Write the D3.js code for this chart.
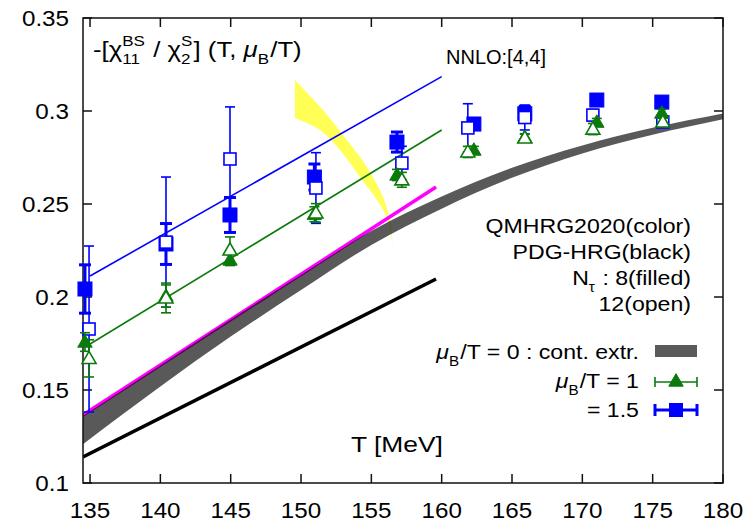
<!DOCTYPE html>
<html>
<head>
<meta charset="utf-8">
<script src="https://cdn.jsdelivr.net/npm/d3@7"></script>
<style>
  body { margin: 0; background: #fff; }
  svg text { font-family: "Liberation Sans", Arial, Helvetica, sans-serif; fill: #000; white-space: pre; }
</style>
</head>
<body>
<svg id="chart" width="756" height="523"></svg>
<script>
// ---- data ----
var xTicks = [135, 140, 145, 150, 155, 160, 165, 170, 175, 180];
var yTicks = [0.1, 0.15, 0.2, 0.25, 0.3, 0.35];

// mu_B/T = 0 continuum extrapolation band
var bandT     = [134.5, 140, 145, 150, 155, 160, 165, 170, 175, 180];
var bandUpper = [0.1360, 0.1632, 0.1878, 0.2118, 0.2355, 0.2540, 0.2695, 0.2815, 0.2910, 0.2987];
var bandLower = [0.1209, 0.1519, 0.1787, 0.2037, 0.2280, 0.2475, 0.2641, 0.2772, 0.2872, 0.2955];

// NNLO [4,4] lines
var nnloT   = [135, 160];
var nnlo15  = [0.2113, 0.3185];
var nnlo1   = [0.1747, 0.2898];

// HRG lines
var hrgT   = [134.5, 159.6];
var qmhrg  = [0.1366, 0.2591];   // magenta
var pdghrg = [0.1140, 0.2097];   // black

// yellow band (upper edge then lower edge)
var yelUpT = [149.57, 151.56, 153.26, 154.68, 155.82, 156.32, 156.53];
var yelUpV = [0.3167, 0.3005, 0.2844, 0.2699, 0.2538, 0.2414, 0.2269];
var yelLoT = [149.57, 151.34, 152.77, 154.19, 155.40, 156.18, 156.46];
var yelLoV = [0.2962, 0.2898, 0.2790, 0.2645, 0.2522, 0.2414, 0.2306];

// lattice points
var T8  = [134.64, 140.4, 144.95, 150.95, 156.82, 162.29, 165.91, 171.03, 175.65];
var T12 = [134.93, 140.4, 144.95, 151.06, 157.17, 161.86, 165.91, 170.75, 175.72];

var blue8     = [0.2043, 0.2285, 0.2441, 0.2645, 0.2833, 0.2930, 0.2985, 0.3059, 0.3048];
var blue8err  = [0.0130, 0.0110, 0.0094, 0.0070, 0.0054, 0.0030, 0.0040, 0.0020, 0.0020];
var blue12    = [0.1828, 0.2295, 0.2742, 0.2586, 0.2720, 0.2909, 0.2965, 0.2978, 0.2941];
var blue12err = [0.0446, 0.0350, 0.0280, 0.0190, 0.0090, 0.0130, 0.0067, 0.0030, 0.0020];
var green8     = [0.1758, 0.2005, 0.2199, 0.2445, 0.2656, 0.2790, 0.2858, 0.2940, 0.2989];
var green8err  = [0.0050, 0.0060, 0.0030, 0.0040, 0.0030, 0.0020, 0.0020, 0.0020, 0.0020];
var green12    = [0.1670, 0.1995, 0.2253, 0.2452, 0.2630, 0.2780, 0.2855, 0.2903, 0.2941];
var green12err = [0.0100, 0.0080, 0.0070, 0.0050, 0.0040, 0.0030, 0.0020, 0.0030, 0.0020];

var BLUE = "#0000ff", GREEN = "#0b7a0b";
var SX = 1.1;   // text in the figure is a little wider than Arial

var svg = d3.select("#chart");
var x = d3.scaleLinear().domain([134.5, 180]).range([83, 723]);
var y = d3.scaleLinear().domain([0.1, 0.35]).range([483, 18]);

svg.append("clipPath").attr("id", "plotclip")
  .append("rect").attr("x", 83).attr("y", 18).attr("width", 640).attr("height", 465);

var plot = svg.append("g").attr("clip-path", "url(#plotclip)");

// yellow band: two curved edges joined by straight ends
var edge = d3.line().x(function (d) { return x(d[0]); }).y(function (d) { return y(d[1]); })
  .curve(d3.curveCatmullRom);
var yUp = yelUpT.map(function (t, i) { return [t, yelUpV[i]]; });
var yLo = yelLoT.map(function (t, i) { return [t, yelLoV[i]]; }).reverse();
plot.append("path")
  .attr("d", edge(yUp) + "L" + edge(yLo).slice(1) + "Z")
  .attr("fill", "#ffff55");

var line2 = d3.line().x(function (d) { return x(d[0]); }).y(function (d) { return y(d[1]); });

plot.append("path").attr("d", line2(hrgT.map(function (t, i) { return [t, qmhrg[i]]; })))
  .attr("stroke", "#ff00ff").attr("stroke-width", 3.5).attr("fill", "none");
plot.append("path").attr("d", line2(hrgT.map(function (t, i) { return [t, pdghrg[i]]; })))
  .attr("stroke", "#000").attr("stroke-width", 3.5).attr("fill", "none");

// grey band, semi transparent black
var area = d3.area()
  .x(function (d, i) { return x(bandT[i]); })
  .y0(function (d, i) { return y(bandLower[i]); })
  .y1(function (d, i) { return y(bandUpper[i]); })
  .curve(d3.curveMonotoneX);
plot.append("path").attr("d", area(bandT)).attr("fill", "#000").attr("fill-opacity", 0.65);

plot.append("path").attr("d", line2(nnloT.map(function (t, i) { return [t, nnlo15[i]]; })))
  .attr("stroke", BLUE).attr("stroke-width", 1.6).attr("fill", "none");
plot.append("path").attr("d", line2(nnloT.map(function (t, i) { return [t, nnlo1[i]]; })))
  .attr("stroke", GREEN).attr("stroke-width", 1.6).attr("fill", "none");

// ---- frame & ticks ----
var frame = svg.append("g").attr("stroke", "#111").attr("stroke-width", 1.5);
frame.append("rect").attr("x", 83).attr("y", 18).attr("width", 640).attr("height", 465).attr("fill", "none");
xTicks.forEach(function (t) {
  frame.append("line").attr("x1", x(t)).attr("x2", x(t)).attr("y1", 483).attr("y2", 474);
  frame.append("line").attr("x1", x(t)).attr("x2", x(t)).attr("y1", 18).attr("y2", 27);
});
yTicks.forEach(function (v) {
  frame.append("line").attr("x1", 83).attr("x2", 92).attr("y1", y(v)).attr("y2", y(v));
  frame.append("line").attr("x1", 723).attr("x2", 714).attr("y1", y(v)).attr("y2", y(v));
});

svg.append("g").selectAll("text").data(xTicks).enter().append("text")
  .attr("transform", function (d) { return "translate(" + x(d) + ",518) scale(" + SX + ",1)"; })
  .attr("text-anchor", "middle").style("font-size", "22px").text(function (d) { return d; });
svg.append("g").selectAll("text").data(yTicks).enter().append("text")
  .attr("transform", function (d) { return "translate(69," + (y(d) + 8) + ") scale(" + SX + ",1)"; })
  .attr("text-anchor", "end").style("font-size", "22px")
  .text(function (d) { return String(+d.toFixed(2)); });

// ---- error bars and points ----
function errbars(T, v, e, color, sw, cap) {
  var g = svg.append("g").attr("stroke", color).attr("stroke-width", sw);
  v.forEach(function (val, i) {
    var cx = x(T[i]), y1 = y(val + e[i]), y0 = y(val - e[i]);
    g.append("line").attr("x1", cx).attr("x2", cx).attr("y1", y1).attr("y2", y0);
    g.append("line").attr("x1", cx - cap).attr("x2", cx + cap).attr("y1", y1).attr("y2", y1);
    g.append("line").attr("x1", cx - cap).attr("x2", cx + cap).attr("y1", y0).attr("y2", y0);
  });
}
function squares(T, v, color, filled) {
  var s = filled ? 14 : 12;
  svg.append("g").selectAll("rect").data(v).enter().append("rect")
    .attr("x", function (d, i) { return x(T[i]) - s / 2; })
    .attr("y", function (d) { return y(d) - s / 2; })
    .attr("width", s).attr("height", s)
    .attr("fill", filled ? color : "#fff").attr("stroke", color).attr("stroke-width", filled ? 1 : 1.6);
}
function triangles(T, v, color, filled) {
  var sym = d3.symbol().type(d3.symbolTriangle).size(filled ? 90 : 85);
  svg.append("g").selectAll("path").data(v).enter().append("path")
    .attr("d", sym)
    .attr("transform", function (d, i) { return "translate(" + x(T[i]) + "," + (y(d) + 1) + ")"; })
    .attr("fill", filled ? color : "#fff").attr("stroke", color).attr("stroke-width", filled ? 1 : 1.6);
}

errbars(T8, blue8, blue8err, BLUE, 3, 6);
squares(T8, blue8, BLUE, true);
errbars(T12, blue12, blue12err, BLUE, 1.6, 5);
squares(T12, blue12, BLUE, false);
errbars(T8, green8, green8err, GREEN, 1.6, 5);
triangles(T8, green8, GREEN, true);
errbars(T12, green12, green12err, GREEN, 1.6, 5);
triangles(T12, green12, GREEN, false);

// ---- text ----
function rich(x0, y0, parts, fs, anchor, sx) {
  sx = sx || SX;
  var g = svg.append("g");
  var cx = 0, small = fs * 0.66;
  function txt(s, px, py, size, it) {
    return g.append("text").attr("x", px).attr("y", py).attr("xml:space", "preserve")
      .style("font-size", size + "px").style("font-style", it ? "italic" : "normal").text(s);
  }
  parts.forEach(function (p) {
    if (p.t !== undefined) {
      cx += txt(p.t, cx, 0, fs, p.it).node().getComputedTextLength();
    } else {
      var w = 0;
      if (p.sup) w = Math.max(w, txt(p.sup, cx, -fs * 0.5, small).node().getComputedTextLength());
      if (p.sub) w = Math.max(w, txt(p.sub, cx, fs * 0.34, small).node().getComputedTextLength());
      cx += w + 1;
    }
  });
  var wid = cx * sx;
  var tx = anchor === "end" ? x0 - wid : (anchor === "middle" ? x0 - wid / 2 : x0);
  g.attr("transform", "translate(" + tx + "," + y0 + ") scale(" + sx + ",1)");
}

rich(93, 57, [{ t: "-[χ" }, { sup: "BS", sub: "11" }, { t: " / χ" }, { sup: "S", sub: "2" },
  { t: "] (T, " }, { t: "μ", it: true }, { sub: "B" }, { t: "/T)" }], 22, "start", 1.17);
rich(446, 64, [{ t: "NNLO:[4,4]" }], 20, "start", 1.0);

rich(691, 233, [{ t: "QMHRG2020(color)" }], 21, "end");
rich(691, 259, [{ t: "PDG-HRG(black)" }], 21, "end");
rich(691, 285, [{ t: "N" }, { sub: "τ" }, { t: " : 8(filled)" }], 21, "end");
rich(691, 311, [{ t: "12(open)" }], 21, "end");

rich(639, 359, [{ t: "μ", it: true }, { sub: "B" }, { t: "/T = 0 : cont. extr." }], 21, "end");
rich(639, 388, [{ t: "μ", it: true }, { sub: "B" }, { t: "/T = 1" }], 21, "end");
rich(639, 417, [{ t: "= 1.5" }], 21, "end");

rich(397, 452, [{ t: "T [MeV]" }], 22, "middle", 1.2);

// ---- legend symbols ----
var leg = svg.append("g");
leg.append("rect").attr("x", 655).attr("y", 345).attr("width", 42).attr("height", 12).attr("fill", "#5a5a5a");
var lg = leg.append("g").attr("stroke", GREEN).attr("stroke-width", 1.6);
lg.append("line").attr("x1", 655).attr("x2", 697).attr("y1", 382).attr("y2", 382);
lg.append("line").attr("x1", 655).attr("x2", 655).attr("y1", 377).attr("y2", 387);
lg.append("line").attr("x1", 697).attr("x2", 697).attr("y1", 377).attr("y2", 387);
leg.append("path").attr("d", d3.symbol().type(d3.symbolTriangle).size(90)())
  .attr("transform", "translate(676,382)").attr("fill", GREEN).attr("stroke", GREEN);
var lb = leg.append("g").attr("stroke", BLUE).attr("stroke-width", 3);
lb.append("line").attr("x1", 655).attr("x2", 697).attr("y1", 410).attr("y2", 410);
lb.append("line").attr("x1", 655).attr("x2", 655).attr("y1", 404).attr("y2", 416);
lb.append("line").attr("x1", 697).attr("x2", 697).attr("y1", 404).attr("y2", 416);
leg.append("rect").attr("x", 669).attr("y", 403).attr("width", 14).attr("height", 14).attr("fill", BLUE);
</script>
</body>
</html>
